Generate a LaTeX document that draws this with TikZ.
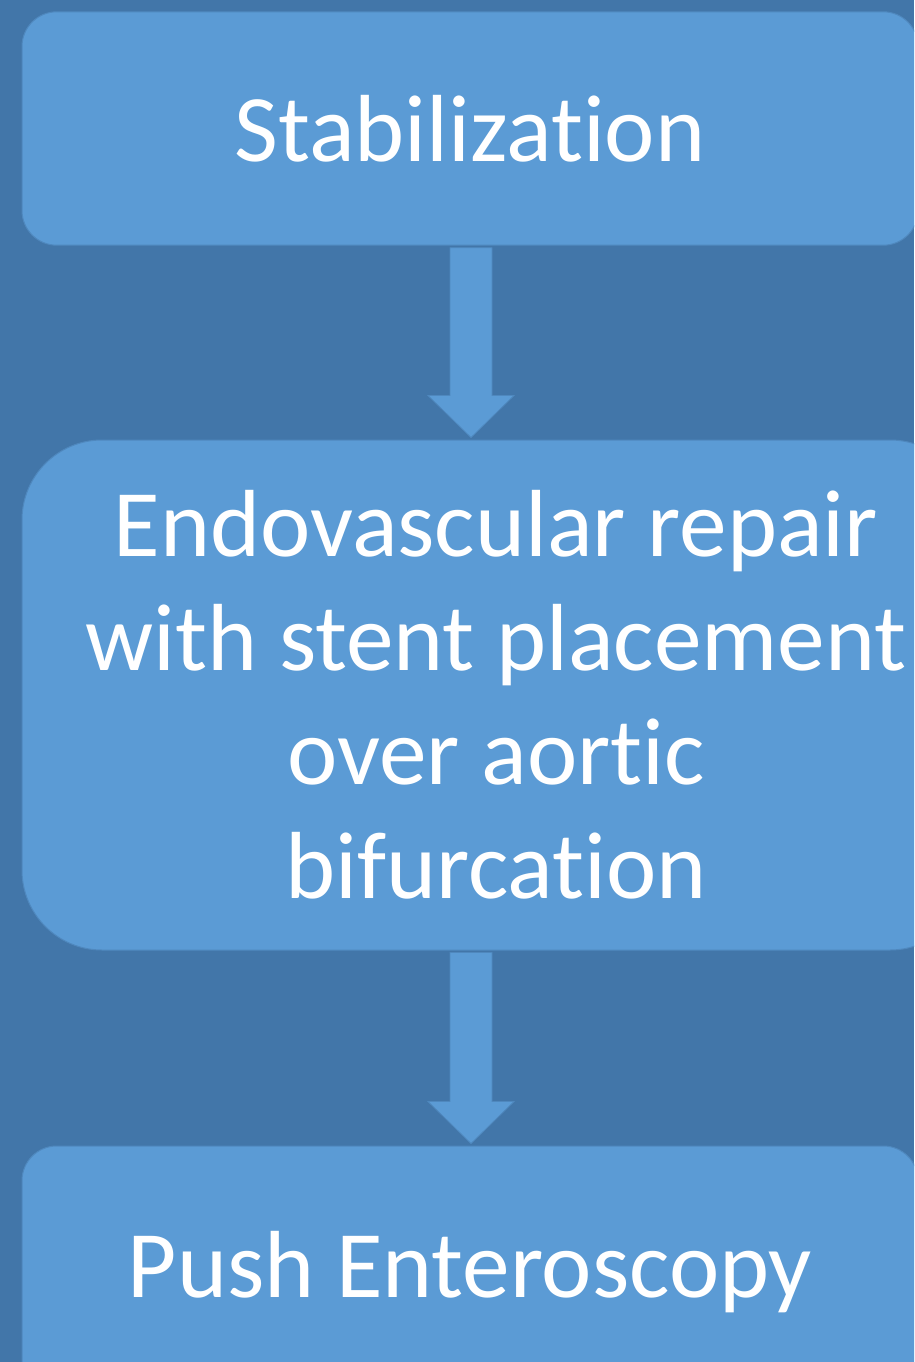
\documentclass[tikz,border=0pt]{standalone}
\usepackage{fontspec}
\setmainfont{Carlito}[Ligatures=NoCommon]
\usetikzlibrary{calc}

\definecolor{slidebg}{HTML}{4276A9}
\definecolor{boxblue}{HTML}{5B9BD5}
\definecolor{boxedge}{HTML}{4F88BE}

% block arrow from one box down to the next, on the column axis
\newcommand{\flowarrow}[2]{%
  \coordinate (#1-out) at ($(axis |- #1.south)+(0,2)$);
  \coordinate (#1-tip) at ($(axis |- #2.north)+(0,-2)$);
  \filldraw[arrowblock] ($(#1-out)+(-21,0)$) -- ($(#1-out)+(21,0)$)
    -- ($(#1-tip)+(21,-42)$) -- ($(#1-tip)+(43,-42)$) -- (#1-tip)
    -- ($(#1-tip)+(-43,-42)$) -- ($(#1-tip)+(-21,-42)$) -- cycle;}

\begin{document}
\begin{tikzpicture}[
    x=0.75pt, y=-0.75pt,
    box/.style={rectangle, fill=boxblue, draw=boxedge, line width=0.75pt,
      text=white, align=center, inner sep=0pt,
      font=\fontsize{71.5}{85.5}\selectfont},
    arrowblock/.style={fill=boxblue, draw=boxedge, line width=0.6pt}
]
  \clip (0,0) rectangle (914,1362);
  \fill[slidebg] (0,0) rectangle (914,1362);
  \coordinate (axis) at (471,0);

  % nodes
  \node[box, rounded corners=26pt, minimum width=672pt, minimum height=175pt]
    (stab) at (470,128.5) {Stabilization};
  \node[box, rounded corners=60pt, minimum width=711pt, minimum height=382.5pt]
    (endo) at (496,695) {Endovascular repair\\with stent placement\\over aortic\\bifurcation};
  \node[box, rounded corners=26pt, minimum width=672pt, minimum height=189pt]
    (push) at (470,1272) {Push Enteroscopy};

  % edges
  \flowarrow{stab}{endo}
  \flowarrow{endo}{push}
\end{tikzpicture}
\end{document}
